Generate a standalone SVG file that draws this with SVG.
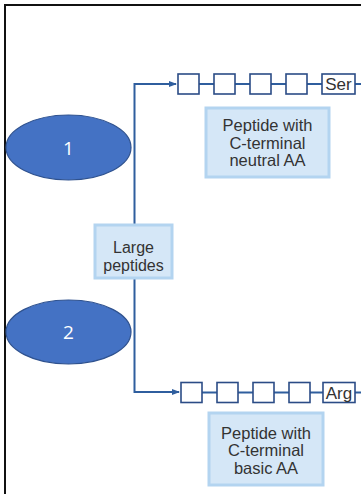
<svg xmlns="http://www.w3.org/2000/svg" width="361" height="494" viewBox="0 0 361 494">
<defs>
<style>
.bg{fill:#ffffff}
.frame{fill:none;stroke:#111;stroke-width:2}
.oval{fill:#4472C4;stroke:#2F528F;stroke-width:1.2}
.ovtxt{font-family:"Open Sans","Liberation Sans",sans-serif;font-size:19px;fill:#ffffff;text-anchor:middle}
.wire{fill:none;stroke:#2F5E9E;stroke-width:2}
.res{fill:#ffffff;stroke:#2B4C86;stroke-width:1.6}
.lbl{fill:#D5E7F7;stroke:#B3D4F0;stroke-width:3}
.txt{font-family:"Liberation Sans",Arial,sans-serif;fill:#333333;text-anchor:middle}
</style>
<marker id="ah" markerWidth="8" markerHeight="6" refX="7" refY="3" orient="auto" markerUnits="userSpaceOnUse">
<path d="M0,0 L8,3 L0,6 z" fill="#2F5E9E"/>
</marker>
</defs>
<rect class="bg" x="0" y="0" width="361" height="494"/>
<path class="frame" d="M5,494 V5 H361"/>
<g id="connectors">
<path class="wire" d="M134.5,225 V84 H176" marker-end="url(#ah)"/>
<path class="wire" d="M134.5,278 V392 H179" marker-end="url(#ah)"/>
<path class="wire" d="M199,84 H361"/>
<path class="wire" d="M202,392.5 H361"/>
</g>
<g id="node1">
<ellipse class="oval" cx="68.5" cy="147.5" rx="62.5" ry="32.5"/>
<text class="ovtxt" x="68.5" y="154.5">1</text>
</g>
<g id="node2">
<ellipse class="oval" cx="68.5" cy="332" rx="62.5" ry="32"/>
<text class="ovtxt" x="68.5" y="339">2</text>
</g>
<g id="large">
<rect class="lbl" x="95" y="225" width="77" height="53"/>
<text class="txt" font-size="16" x="133.5" y="252.5">Large</text>
<text class="txt" font-size="16" x="133.5" y="270.5">peptides</text>
</g>
<g id="chain-top">
<rect class="res" x="178" y="74" width="21" height="20"/>
<rect class="res" x="214" y="74" width="21" height="20"/>
<rect class="res" x="250" y="74" width="21" height="20"/>
<rect class="res" x="286" y="74" width="21" height="20"/>
<rect class="res" x="322" y="74" width="33" height="20"/>
<text class="txt" font-size="17" x="338.5" y="90">Ser</text>
</g>
<g id="label-top">
<rect class="lbl" x="206" y="108" width="123" height="69"/>
<text class="txt" font-size="16.5" x="267.5" y="130.5">Peptide with</text>
<text class="txt" font-size="16.5" x="267.5" y="148.5">C-terminal</text>
<text class="txt" font-size="16.5" x="267.5" y="166">neutral AA</text>
</g>
<g id="chain-bottom">
<rect class="res" x="181" y="382.5" width="21" height="20"/>
<rect class="res" x="217" y="382.5" width="21" height="20"/>
<rect class="res" x="253" y="382.5" width="21" height="20"/>
<rect class="res" x="289" y="382.5" width="21" height="20"/>
<rect class="res" x="323" y="382.5" width="32" height="20"/>
<text class="txt" font-size="17" x="339" y="398.5">Arg</text>
</g>
<g id="label-bottom">
<rect class="lbl" x="209" y="413" width="114" height="72"/>
<text class="txt" font-size="16.5" x="266" y="438.5">Peptide with</text>
<text class="txt" font-size="16.5" x="266" y="456">C-terminal</text>
<text class="txt" font-size="16.5" x="266" y="473.5">basic AA</text>
</g>
</svg>
